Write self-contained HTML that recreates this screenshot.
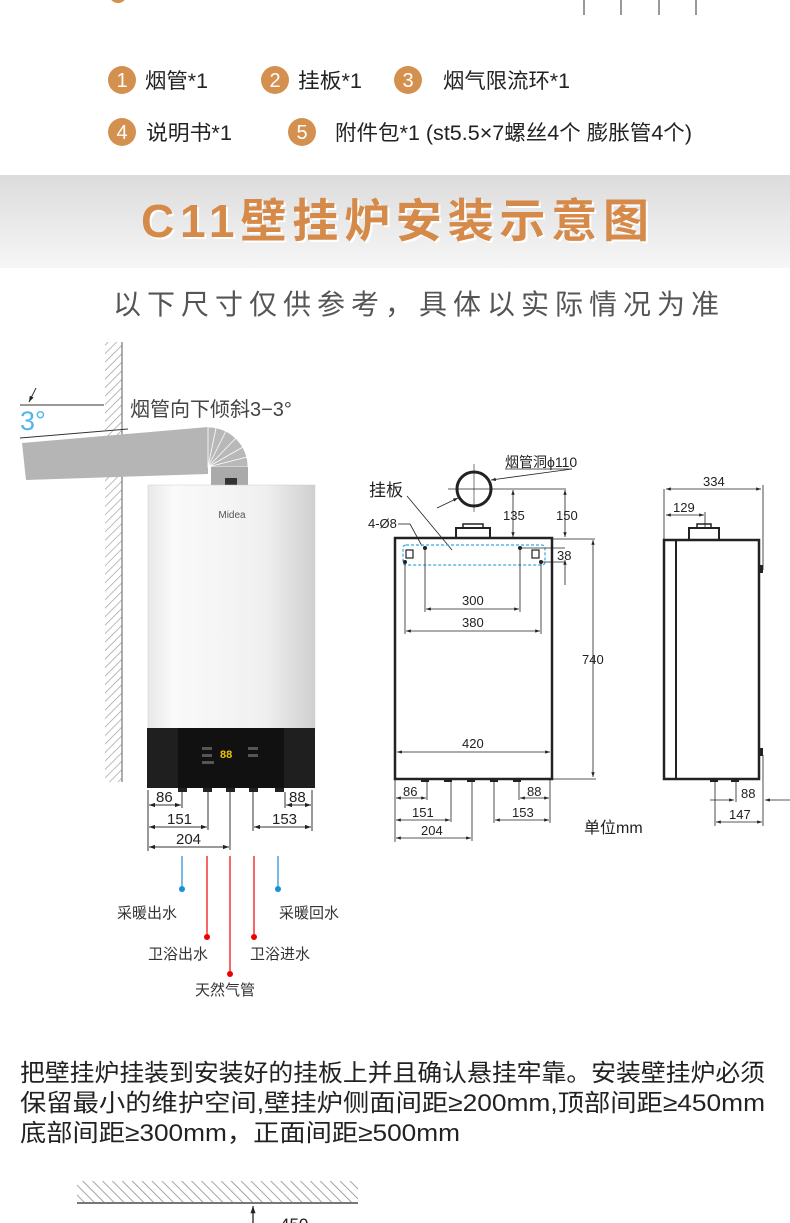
<!DOCTYPE html>
<html><head><meta charset="utf-8"><style>
html,body{margin:0;padding:0;background:#fff;}
svg{display:block;font-family:"Liberation Sans","Noto Sans CJK SC",sans-serif;}
</style></head><body>
<svg width="790" height="1223" viewBox="0 0 790 1223" xmlns="http://www.w3.org/2000/svg">
<defs>
<marker id="a" viewBox="0 0 10 10" refX="10" refY="5" markerWidth="9" markerHeight="6" orient="auto-start-reverse"><path d="M0,1.5 L10,5 L0,8.5z" fill="#222"/></marker>
<pattern id="h" width="6" height="6" patternUnits="userSpaceOnUse" patternTransform="rotate(45)"><rect width="6" height="6" fill="#fff"/><line x1="0" y1="0" x2="0" y2="6" stroke="#999" stroke-width="1.3"/></pattern>
<pattern id="h2" width="7" height="7" patternUnits="userSpaceOnUse" patternTransform="rotate(-45)"><rect width="7" height="7" fill="#fff"/><line x1="0" y1="0" x2="0" y2="7" stroke="#888" stroke-width="1.5"/></pattern>
<linearGradient id="band" x1="0" y1="0" x2="0" y2="1"><stop offset="0" stop-color="#dcdcdc"/><stop offset="1" stop-color="#f6f6f6"/></linearGradient>
<linearGradient id="body" x1="0" y1="0" x2="1" y2="0"><stop offset="0" stop-color="#e8e8e8"/><stop offset="0.15" stop-color="#fafafa"/><stop offset="0.7" stop-color="#f0f0f0"/><stop offset="1" stop-color="#cfcfcf"/></linearGradient>
</defs>

<circle cx="118" cy="-6" r="9" fill="#d4904f"/>
<g stroke="#999" stroke-width="2"><line x1="584" y1="0" x2="584" y2="15"/><line x1="621" y1="0" x2="621" y2="15"/><line x1="659" y1="0" x2="659" y2="15"/><line x1="696" y1="0" x2="696" y2="15"/></g>

<g fill="#d4904f"><circle cx="122" cy="80" r="14"/><circle cx="275" cy="80" r="14"/><circle cx="408" cy="80" r="14"/><circle cx="122" cy="132" r="14"/><circle cx="302" cy="132" r="14"/></g>
<g fill="#fff" font-size="20" text-anchor="middle"><text x="122" y="87">1</text><text x="275" y="87">2</text><text x="408" y="87">3</text><text x="122" y="139">4</text><text x="302" y="139">5</text></g>
<g fill="#222" font-size="21" lengthAdjust="spacingAndGlyphs">
<text x="145" y="88" textLength="63" lengthAdjust="spacingAndGlyphs">烟管*1</text>
<text x="298" y="88" textLength="64" lengthAdjust="spacingAndGlyphs">挂板*1</text>
<text x="443" y="88" textLength="127" lengthAdjust="spacingAndGlyphs">烟气限流环*1</text>
<text x="146" y="140" textLength="86" lengthAdjust="spacingAndGlyphs">说明书*1</text>
<text x="335" y="140" textLength="357" lengthAdjust="spacingAndGlyphs">附件包*1 (st5.5×7螺丝4个 膨胀管4个)</text></g>

<rect x="0" y="175" width="790" height="93" fill="url(#band)"/>
<text x="397" y="239" text-anchor="middle" font-size="46" font-weight="bold" fill="#fff" textLength="508">C11壁挂炉安装示意图</text>
<text x="395" y="237" text-anchor="middle" font-size="46" font-weight="bold" fill="#d58a4a" textLength="508">C11壁挂炉安装示意图</text>
<text x="416" y="314" text-anchor="middle" font-size="28" fill="#555" textLength="606">以下尺寸仅供参考，具体以实际情况为准</text>

<rect x="105" y="342" width="17" height="440" fill="url(#h)"/>
<line x1="122" y1="342" x2="122" y2="782" stroke="#777" stroke-width="1.2"/>
<line x1="20" y1="405" x2="104" y2="405" stroke="#333" stroke-width="1"/>
<line x1="36" y1="388" x2="29" y2="402" stroke="#333" marker-end="url(#a)"/>
<text x="20" y="430" font-size="27" fill="#4fb8e8">3°</text>
<text x="130" y="416" font-size="20" fill="#444">烟管向下倾斜3−3°</text>
<line x1="20" y1="438" x2="128" y2="429" stroke="#333" stroke-width="1"/>
<polygon points="22,443 208,427 208,474 26,480" fill="#b5b5b5"/>
<path d="M208,427 A40,40 0 0 1 248,467 L208,467z" fill="#b8b8b8" stroke="#fff" stroke-width="0.8"/>
<g stroke="#fff" stroke-width="0.8"><line x1="208" y1="467" x2="216" y2="428"/><line x1="208" y1="467" x2="226" y2="431"/><line x1="208" y1="467" x2="236" y2="438"/><line x1="208" y1="467" x2="243" y2="447"/><line x1="208" y1="467" x2="247" y2="457"/></g>
<rect x="211" y="467" width="37" height="18" fill="#aaa"/>
<rect x="225" y="478" width="12" height="7" fill="#333"/>

<rect x="148" y="485" width="167" height="245" fill="url(#body)" stroke="#ccc" stroke-width="0.5"/>
<text x="232" y="518" font-size="10" fill="#555" text-anchor="middle">Midea</text>
<rect x="147" y="728" width="168" height="60" fill="#1f1f1f"/>
<rect x="178" y="728" width="106" height="60" fill="#111"/>
<text x="220" y="758" font-size="11" fill="#f2c200" font-weight="bold">88</text>
<g fill="#555"><rect x="202" y="747" width="10" height="3"/><rect x="202" y="754" width="10" height="3"/><rect x="202" y="761" width="12" height="3"/><rect x="248" y="747" width="10" height="3"/><rect x="248" y="754" width="10" height="3"/></g>
<g fill="#222"><rect x="178" y="788" width="9" height="4"/><rect x="203" y="788" width="9" height="4"/><rect x="226" y="788" width="9" height="4"/><rect x="249" y="788" width="9" height="4"/><rect x="275" y="788" width="9" height="4"/></g>
<g stroke="#333" stroke-width="1" fill="none">
<line x1="148" y1="790" x2="148" y2="851"/><line x1="312" y1="790" x2="312" y2="831"/>
<line x1="182" y1="792" x2="182" y2="808"/><line x1="208" y1="792" x2="208" y2="830"/><line x1="230" y1="792" x2="230" y2="850"/><line x1="253" y1="792" x2="253" y2="831"/><line x1="285" y1="792" x2="285" y2="808"/>
<line x1="149" y1="805" x2="181" y2="805" marker-end="url(#a)" marker-start="url(#a)"/>
<line x1="149" y1="827" x2="207" y2="827" marker-end="url(#a)" marker-start="url(#a)"/>
<line x1="149" y1="847" x2="229" y2="847" marker-end="url(#a)" marker-start="url(#a)"/>
<line x1="286" y1="805" x2="311" y2="805" marker-end="url(#a)" marker-start="url(#a)"/>
<line x1="254" y1="827" x2="311" y2="827" marker-end="url(#a)" marker-start="url(#a)"/>
</g>
<g font-size="15" fill="#222"><text x="156" y="802">86</text><text x="167" y="824">151</text><text x="176" y="844">204</text><text x="289" y="802">88</text><text x="272" y="824">153</text></g>
<g stroke-width="1.2"><line x1="182" y1="856" x2="182" y2="889" stroke="#1a8fd8"/><line x1="278" y1="856" x2="278" y2="889" stroke="#1a8fd8"/><line x1="207" y1="856" x2="207" y2="937" stroke="#e00"/><line x1="230" y1="856" x2="230" y2="974" stroke="#e00"/><line x1="254" y1="856" x2="254" y2="937" stroke="#e00"/></g>
<circle cx="182" cy="889" r="3" fill="#1a8fd8"/><circle cx="278" cy="889" r="3" fill="#1a8fd8"/><circle cx="207" cy="937" r="3" fill="#e00"/><circle cx="230" cy="974" r="3" fill="#e00"/><circle cx="254" cy="937" r="3" fill="#e00"/>
<g font-size="15" fill="#333"><text x="117" y="918">采暖出水</text><text x="279" y="918">采暖回水</text><text x="148" y="959">卫浴出水</text><text x="250" y="959">卫浴进水</text><text x="195" y="995">天然气管</text></g>

<g stroke="#222" fill="none">
<rect x="395" y="538" width="157" height="241" stroke-width="2.5"/>
<rect x="456" y="528" width="34" height="10" stroke-width="2"/>
<rect x="463" y="524" width="20" height="4" stroke-width="1.5"/>
<circle cx="474" cy="489" r="17" stroke-width="3"/>
<line x1="474" y1="464" x2="474" y2="512" stroke-width="0.6"/><line x1="448" y1="489" x2="566" y2="489" stroke-width="0.8"/>
<line x1="437" y1="508" x2="458" y2="498" stroke-width="0.8" marker-end="url(#a)"/><line x1="572" y1="469" x2="491" y2="480" stroke-width="0.8" marker-end="url(#a)"/><line x1="505" y1="469" x2="572" y2="469" stroke-width="0.8"/>
<line x1="407" y1="496" x2="452" y2="550" stroke-width="0.8"/>
<line x1="398" y1="524" x2="410" y2="524" stroke-width="0.8"/><line x1="410" y1="524" x2="422" y2="546" stroke-width="0.8"/>
<rect x="403" y="545" width="142" height="20" rx="3" stroke="#3aa6e0" stroke-dasharray="3,2" stroke-width="1.2"/>
<rect x="406" y="550" width="7" height="8" stroke-width="1.2"/><rect x="532" y="550" width="7" height="8" stroke-width="1.2"/>
<line x1="513" y1="490" x2="513" y2="537" stroke-width="0.8" marker-start="url(#a)" marker-end="url(#a)"/>
<line x1="565" y1="490" x2="565" y2="537" stroke-width="0.8" marker-start="url(#a)" marker-end="url(#a)"/>
<line x1="552" y1="539" x2="595" y2="539" stroke-width="0.8"/>
<line x1="520" y1="548" x2="565" y2="548" stroke-width="0.8"/><line x1="541" y1="562" x2="565" y2="562" stroke-width="0.8"/>
<line x1="565" y1="560" x2="565" y2="585" stroke-width="0.8" marker-start="url(#a)"/>
<line x1="425" y1="548" x2="425" y2="612" stroke-width="0.8"/><line x1="520" y1="548" x2="520" y2="612" stroke-width="0.8"/>
<line x1="405" y1="562" x2="405" y2="634" stroke-width="0.8"/><line x1="541" y1="562" x2="541" y2="634" stroke-width="0.8"/>
<line x1="426" y1="609" x2="519" y2="609" stroke-width="0.8" marker-start="url(#a)" marker-end="url(#a)"/>
<line x1="406" y1="631" x2="540" y2="631" stroke-width="0.8" marker-start="url(#a)" marker-end="url(#a)"/>
<line x1="593" y1="540" x2="593" y2="777" stroke-width="0.8" marker-start="url(#a)" marker-end="url(#a)"/>
<line x1="552" y1="779" x2="596" y2="779" stroke-width="0.8"/>
<line x1="397" y1="752" x2="550" y2="752" stroke-width="0.8" marker-start="url(#a)" marker-end="url(#a)"/>
<line x1="395" y1="780" x2="395" y2="842" stroke-width="0.8"/><line x1="550" y1="780" x2="550" y2="823" stroke-width="0.8"/>
<line x1="427" y1="780" x2="427" y2="800" stroke-width="0.8"/><line x1="451" y1="780" x2="451" y2="822" stroke-width="0.8"/><line x1="472" y1="780" x2="472" y2="841" stroke-width="0.8"/><line x1="494" y1="780" x2="494" y2="823" stroke-width="0.8"/><line x1="519" y1="780" x2="519" y2="800" stroke-width="0.8"/>
<line x1="396" y1="798" x2="426" y2="798" stroke-width="0.8" marker-start="url(#a)" marker-end="url(#a)"/>
<line x1="396" y1="820" x2="450" y2="820" stroke-width="0.8" marker-start="url(#a)" marker-end="url(#a)"/>
<line x1="396" y1="838" x2="471" y2="838" stroke-width="0.8" marker-start="url(#a)" marker-end="url(#a)"/>
<line x1="520" y1="798" x2="549" y2="798" stroke-width="0.8" marker-start="url(#a)" marker-end="url(#a)"/>
<line x1="495" y1="820" x2="549" y2="820" stroke-width="0.8" marker-start="url(#a)" marker-end="url(#a)"/>
</g>
<g fill="#222"><circle cx="425" cy="548" r="2"/><circle cx="520" cy="548" r="2"/><circle cx="405" cy="562" r="2"/><circle cx="541" cy="562" r="2"/>
<rect x="421" y="778" width="8" height="4"/><rect x="444" y="778" width="8" height="4"/><rect x="467" y="778" width="8" height="4"/><rect x="490" y="778" width="8" height="4"/><rect x="513" y="778" width="8" height="4"/></g>
<g font-size="13" fill="#222">
<text x="505" y="467" font-size="14">烟管洞ϕ110</text><text x="369" y="496" font-size="17">挂板</text><text x="368" y="528">4-Ø8</text>
<text x="503" y="520">135</text><text x="556" y="520">150</text><text x="557" y="560">38</text>
<text x="462" y="605">300</text><text x="462" y="627">380</text><text x="582" y="664">740</text><text x="462" y="748">420</text>
<text x="403" y="796">86</text><text x="412" y="817">151</text><text x="421" y="835">204</text><text x="527" y="796">88</text><text x="512" y="817">153</text>
<text x="584" y="833" font-size="16">单位mm</text>
</g>

<g stroke="#222" fill="none">
<rect x="664" y="540" width="95" height="239" stroke-width="2.5"/>
<line x1="676" y1="540" x2="676" y2="779" stroke-width="2"/>
<rect x="689" y="528" width="30" height="12" stroke-width="2"/><rect x="697" y="524" width="14" height="4" stroke-width="1.5"/>
<line x1="664" y1="489" x2="664" y2="540" stroke-width="0.8"/><line x1="763" y1="485" x2="763" y2="570" stroke-width="0.8"/><line x1="705" y1="512" x2="705" y2="528" stroke-width="0.8"/>
<line x1="666" y1="489" x2="761" y2="489" stroke-width="0.8" marker-start="url(#a)" marker-end="url(#a)"/>
<line x1="666" y1="515" x2="704" y2="515" stroke-width="0.8" marker-start="url(#a)" marker-end="url(#a)"/>
<line x1="763" y1="755" x2="763" y2="826" stroke-width="0.8"/><line x1="715" y1="780" x2="715" y2="826" stroke-width="0.8"/><line x1="736" y1="780" x2="736" y2="802" stroke-width="0.8"/>
<line x1="710" y1="800" x2="734" y2="800" stroke-width="0.8" marker-end="url(#a)"/><line x1="790" y1="800" x2="765" y2="800" stroke-width="0.8" marker-end="url(#a)"/>
<line x1="716" y1="822" x2="762" y2="822" stroke-width="0.8" marker-start="url(#a)" marker-end="url(#a)"/>
</g>
<g fill="#222"><rect x="759" y="565" width="4" height="8"/><rect x="759" y="748" width="4" height="8"/><rect x="710" y="778" width="8" height="4"/><rect x="731" y="778" width="8" height="4"/></g>
<g font-size="13" fill="#222"><text x="703" y="486">334</text><text x="673" y="512">129</text><text x="741" y="798">88</text><text x="729" y="819">147</text></g>

<g font-size="24" fill="#222">
<text x="20" y="1081" textLength="745" lengthAdjust="spacingAndGlyphs">把壁挂炉挂装到安装好的挂板上并且确认悬挂牢靠。安装壁挂炉必须</text>
<text x="20" y="1111" textLength="745" lengthAdjust="spacingAndGlyphs">保留最小的维护空间,壁挂炉侧面间距≥200mm,顶部间距≥450mm</text>
<text x="20" y="1141" textLength="440" lengthAdjust="spacingAndGlyphs">底部间距≥300mm，正面间距≥500mm</text></g>

<rect x="77" y="1181" width="281" height="21" fill="url(#h2)"/>
<line x1="77" y1="1203" x2="358" y2="1203" stroke="#777" stroke-width="2"/>
<line x1="253" y1="1223" x2="253" y2="1206" stroke="#111" stroke-width="1.2" marker-end="url(#a)"/>
<text x="280" y="1230" font-size="17" fill="#222">450</text>
</svg>
</body></html>
